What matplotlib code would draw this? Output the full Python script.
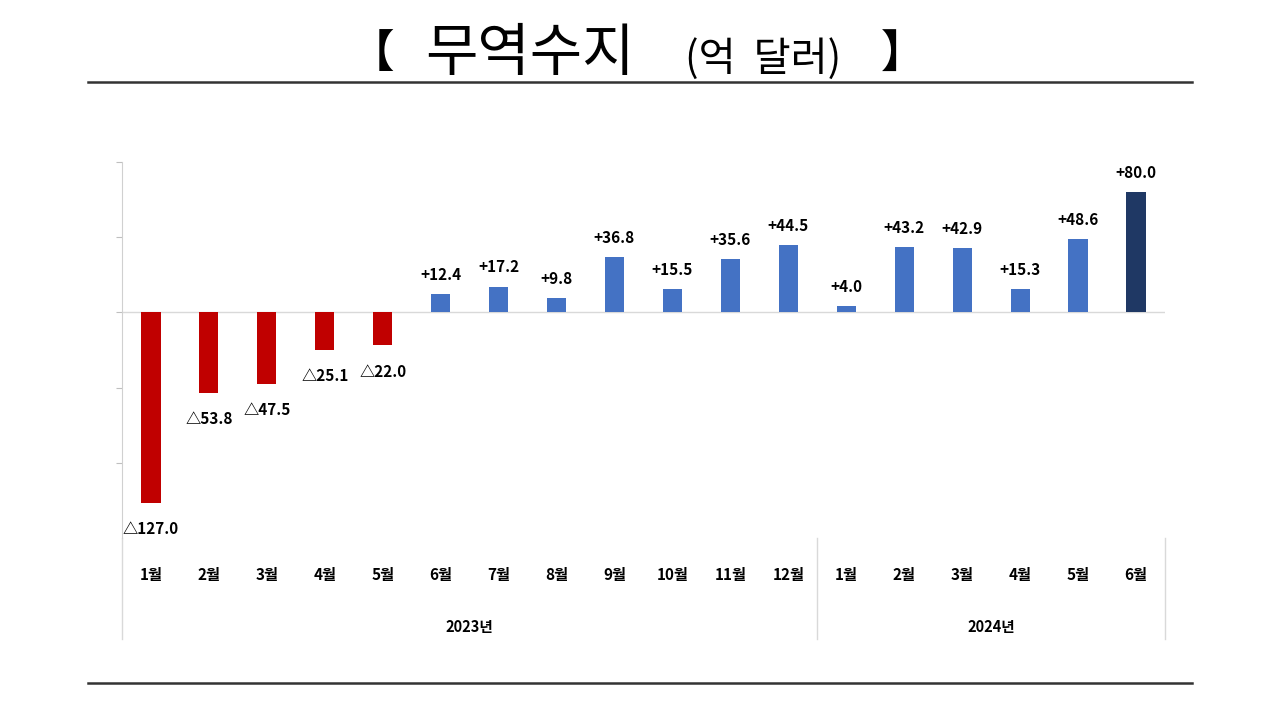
import numpy as np
import matplotlib
matplotlib.use('Agg')
import matplotlib.pyplot as plt
from matplotlib.lines import Line2D

plt.rcParams['font.family'] = ['Noto Sans CJK KR', 'DejaVu Sans']

months = ['1월', '2월', '3월', '4월', '5월', '6월', '7월', '8월', '9월', '10월', '11월', '12월',
          '1월', '2월', '3월', '4월', '5월', '6월']
years = ['2023년', '2024년']
year_counts = [12, 6]
balance = [-127.0, -53.8, -47.5, -25.1, -22.0, 12.4, 17.2, 9.8, 36.8, 15.5, 35.6, 44.5,
           4.0, 43.2, 42.9, 15.3, 48.6, 80.0]

red = '#C00000'
blue = '#4472C4'
navy = '#1F3864'

fig = plt.figure(figsize=(12.8, 7.2), dpi=100)
ax = fig.add_axes([0.0953, 0.2528, 0.8148, 0.5222])

x = np.arange(len(balance))
colors = [red if v < 0 else blue for v in balance]
colors[-1] = navy
ax.bar(x, balance, width=0.33, color=colors, zorder=2)

for xi, v in zip(x, balance):
    if v < 0:
        ax.annotate('△%.1f' % abs(v), (xi, v), xytext=(0, -13), textcoords='offset points',
                    ha='center', va='top', fontsize=11, fontweight='bold')
    else:
        ax.annotate('+%.1f' % v, (xi, v), xytext=(0, 8), textcoords='offset points',
                    ha='center', va='bottom', fontsize=11, fontweight='bold')

ax.set_xlim(-0.5, len(balance) - 0.5)
ax.set_ylim(-150, 100)
ax.axhline(0, color='#d9d9d9', lw=1, zorder=1)
ax.set_yticks([-100, -50, 0, 50, 100])
ax.set_yticklabels([])
ax.tick_params(axis='y', length=4, color='#bfbfbf')
ax.set_xticks([])
for s in ['top', 'right', 'bottom']:
    ax.spines[s].set_visible(False)
ax.spines['left'].set_color('#d0d0d0')

# category axis below the plot
for xi, m in zip(x, months):
    ax.annotate(m, (xi, 0), xycoords=('data', 'axes fraction'), xytext=(0, -27),
                textcoords='offset points', ha='center', va='center',
                fontsize=11, fontweight='bold')
start = 0
bounds = [-0.5]
for yr, n in zip(years, year_counts):
    mid = start + (n - 1) / 2
    ax.annotate(yr, (mid, 0), xycoords=('data', 'axes fraction'), xytext=(0, -64),
                textcoords='offset points', ha='center', va='center',
                fontsize=10.5, fontweight='bold')
    start += n
    bounds.append(start - 0.5)
for b in bounds:
    ax.plot([b, b], [0, -0.27], transform=ax.get_xaxis_transform(), color='#d9d9d9',
            lw=1, clip_on=False)

# title
fig.text(372 / 1280, 0.925, '【', fontsize=32, fontweight='bold', ha='center', va='center')
fig.text(530 / 1280, 0.925, '무역수지', fontsize=41, ha='center', va='center')
fig.text(763 / 1280, 0.918, '(억  달러)', fontsize=29, ha='center', va='center')
fig.text(903 / 1280, 0.925, '】', fontsize=32, fontweight='bold', ha='center', va='center')

fig.add_artist(Line2D([0.069, 0.931], [0.886, 0.886], color='#333333', lw=1.8))
fig.add_artist(Line2D([0.069, 0.931], [0.051, 0.051], color='#333333', lw=1.8))

fig.savefig('out.png', dpi=100)
